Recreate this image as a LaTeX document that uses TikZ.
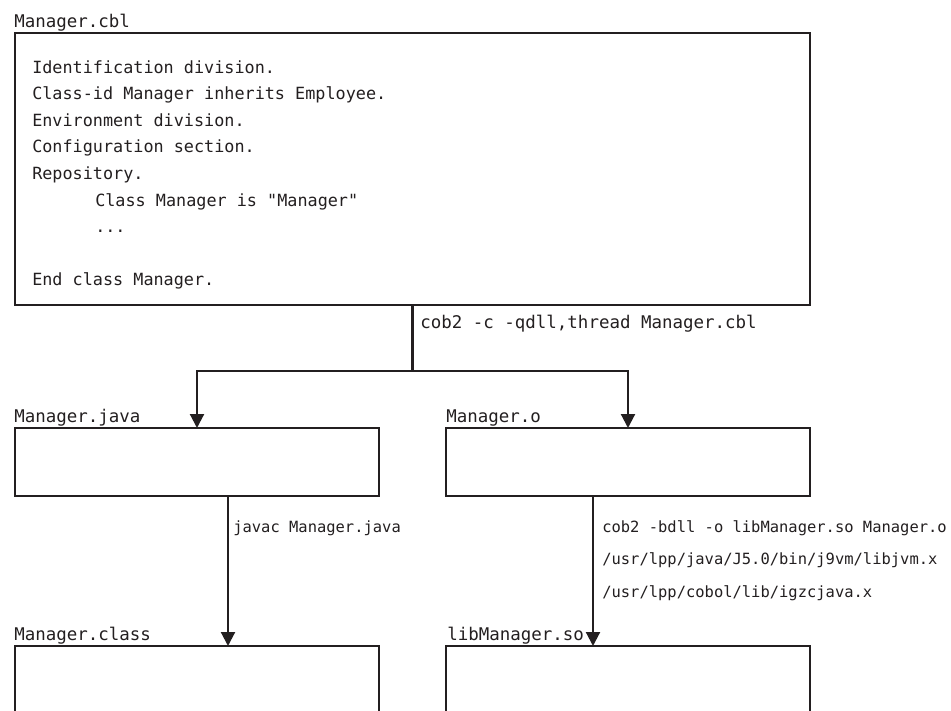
\documentclass[tikz,border=0pt]{standalone}
\usepackage{fontspec}
\setmonofont{DejaVu Sans Mono}
\usetikzlibrary{arrows.meta}
\definecolor{ink}{RGB}{35,31,32}
\begin{document}
\begin{tikzpicture}[x=0.75pt,y=-0.75pt,
  box/.style={draw=ink, line width=1.6pt, inner sep=0pt, outer sep=0pt, anchor=north west},
  fname/.style={font=\ttfamily\fontsize{13.1}{15}\selectfont, text=ink, inner sep=0pt, anchor=base west},
  code/.style={font=\ttfamily\fontsize{12.6}{15}\selectfont, text=ink, inner sep=0pt, anchor=base west},
  cmd/.style={font=\ttfamily\fontsize{11.6}{14}\selectfont, text=ink, inner sep=0pt, anchor=base west},
  conn/.style={draw=ink, line width=1.6pt},
  arr/.style={draw=ink, line width=1.6pt, -{Triangle[length=10.5pt,width=10.5pt]}}]
\useasboundingbox (0,0) rectangle (951,711);
\clip (0,0) rectangle (951,711);
\fill[white] (0,0) rectangle (951,711);

% boxes
\node[box, minimum width=596.25pt, minimum height=204pt] (cbl) at (15,33) {};
\node[box, minimum width=273pt, minimum height=51pt] (java) at (15,428) {};
\node[box, minimum width=273pt, minimum height=51pt] (mo) at (446,428) {};
\node[box, minimum width=273pt, minimum height=75pt] (cls) at (15,646) {};
\node[box, minimum width=273pt, minimum height=75pt] (so) at (446,646) {};

% file names
\node[fname] (lcbl) at (14,27) {Manager.cbl};
\node[fname] (ljava) at (14,422) {Manager.java};
\node[fname] (lmo) at (446,422) {Manager.o};
\node[fname] (lcls) at (14,640) {Manager.class};
\node[fname] (lso) at (447,640) {libManager.so};

% code in the top box
\node[code] (c1) at (32,73) {Identification division.};
\node[code] (c2) at (32,99.5) {Class-id Manager inherits Employee.};
\node[code] (c3) at (32,126) {Environment division.};
\node[code] (c4) at (32,152.5) {Configuration section.};
\node[code] (c5) at (32,179) {Repository.};
\node[code] (c6) at (95,206) {Class Manager is "Manager"};
\node[code] (c7) at (95,232) {...};
\node[code] (c8) at (32,285) {End class Manager.};

% connectors
\coordinate (jn) at (412.5,371);
\coordinate (xa) at (228,0);
\coordinate (xb) at (593,0);
\draw[conn] (cbl.south) -- (jn);
\draw[arr] (jn) -| (java.north);
\draw[arr] (jn) -| (mo.north);
\draw[arr] (java.south -| xa) -- (cls.north -| xa);
\draw[arr] (mo.south -| xb) -- (so.north -| xb);

% command labels
\node[fname] (k1) at (420,328) {cob2 -c -qdll,thread Manager.cbl};
\node[cmd] (k2) at (233,532) {javac Manager.java};
\node[cmd] (k3) at (602,532) {cob2 -bdll -o libManager.so Manager.o};
\node[cmd] (k4) at (602,564.5) {/usr/lpp/java/J5.0/bin/j9vm/libjvm.x};
\node[cmd] (k5) at (602,597) {/usr/lpp/cobol/lib/igzcjava.x};
\end{tikzpicture}
\end{document}
